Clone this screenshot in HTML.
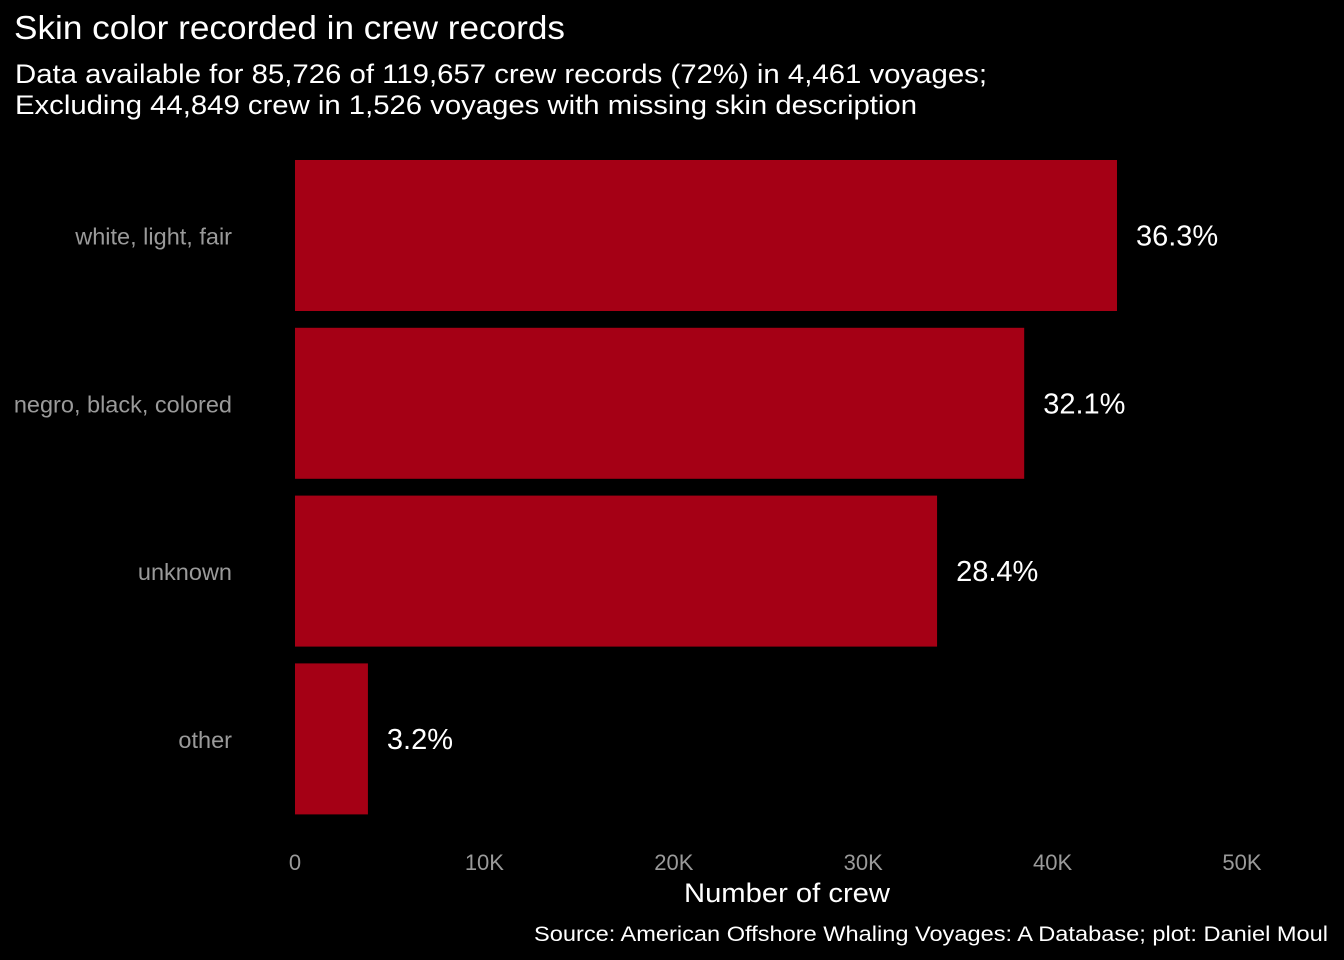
<!DOCTYPE html>
<html><head><meta charset="utf-8"><style>
body{margin:0;background:#000;width:1344px;height:960px;overflow:hidden;font-family:"Liberation Sans",Arial,sans-serif}
</style></head><body>
<svg width="1344" height="960" style="position:absolute;left:0;top:0">
<rect width="1344" height="960" fill="#000"/>
<text x="14" y="39" fill="#fff" font-size="33" textLength="551" lengthAdjust="spacingAndGlyphs">Skin color recorded in crew records</text>
<text x="15" y="83" fill="#fff" font-size="27" textLength="972" lengthAdjust="spacingAndGlyphs">Data available for 85,726 of 119,657 crew records (72%) in 4,461 voyages;</text>
<text x="15" y="114" fill="#fff" font-size="27" textLength="902" lengthAdjust="spacingAndGlyphs">Excluding 44,849 crew in 1,526 voyages with missing skin description</text>
<g id="plot"></g>
<text x="684" y="902" fill="#fff" font-size="27" textLength="206" lengthAdjust="spacingAndGlyphs">Number of crew</text>
<text x="534" y="941" fill="#fff" font-size="21" textLength="794" lengthAdjust="spacingAndGlyphs">Source: American Offshore Whaling Voyages: A Database; plot: Daniel Moul</text>
</svg>
<script>
const categories=["white, light, fair","negro, black, colored","unknown","other"];
const values=[43400,38500,33900,3850];
const pctLabels=["36.3%","32.1%","28.4%","3.2%"];
const ticks=[0,10000,20000,30000,40000,50000];
const tickLabels=["0","10K","20K","30K","40K","50K"];
const NS="http://www.w3.org/2000/svg";
const g=document.getElementById("plot");
const x=v=>295+v*(1242-295)/50000;
const yc=i=>235.5+i*167.8;
const bh=151;
function mk(t,a,txt){const e=document.createElementNS(NS,t);for(const k in a)e.setAttribute(k,a[k]);if(txt!==undefined)e.textContent=txt;g.appendChild(e);return e;}
categories.forEach((c,i)=>{
 const r=mk("rect",{x:x(0),y:yc(i)-bh/2,width:x(values[i])-x(0),height:bh,fill:"#A50015"});
 
 
 const l=mk("text",{x:232,y:yc(i)+9,fill:"#9a9a9a","font-size":23.5,"text-anchor":"end"},c);
 
 
 const p=mk("text",{x:x(values[i])+19,y:yc(i)+10,fill:"#fff","font-size":29},pctLabels[i]);
 
 
});
ticks.forEach((t,i)=>{
 const e=mk("text",{x:x(t),y:870,fill:"#9a9a9a","font-size":22,"text-anchor":"middle"},tickLabels[i]);
 
 
});
</script>
</body></html>
